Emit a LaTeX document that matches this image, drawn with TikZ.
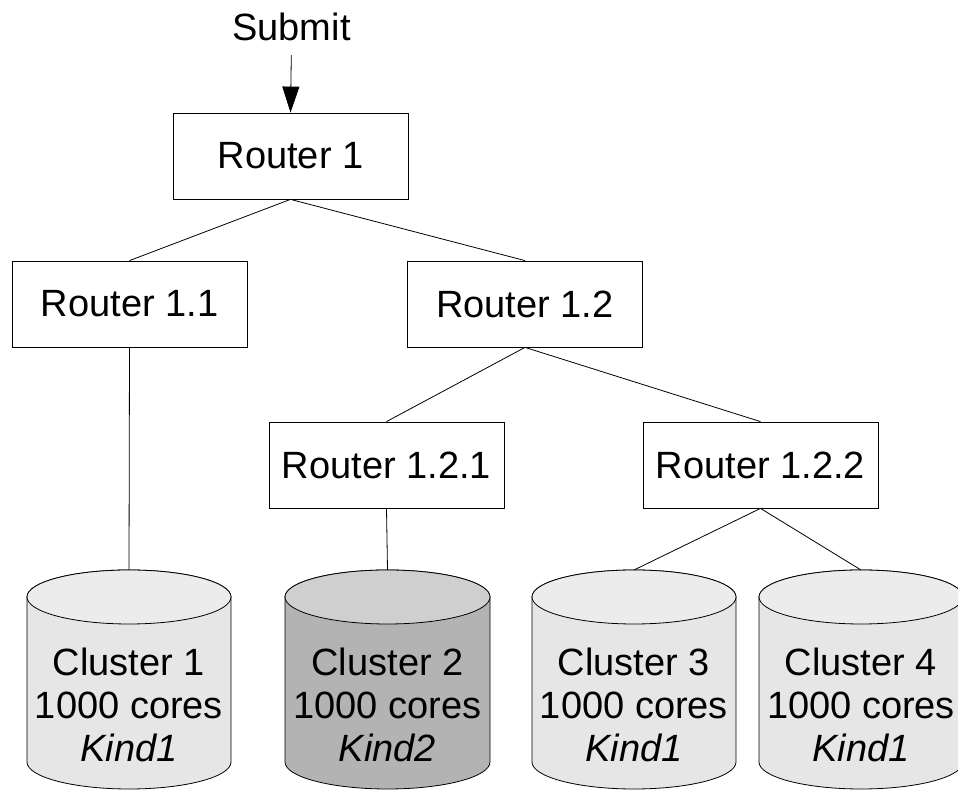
\documentclass[tikz,border=0pt]{standalone}
\usepackage{fontspec}
\setmainfont{Liberation Sans}
\usetikzlibrary{arrows.meta}

% Draws a storage cylinder: name, centre x, half width, body fill, cap fill, label
\newcommand{\clusterdrum}[6]{%
  \path[drumline, fill=#4]
    (#2-#3,194) -- (#2-#3,29)
    arc[start angle=180, end angle=360, x radius=#3, y radius=27]
    -- (#2+#3,194)
    arc[start angle=0, end angle=180, x radius=#3, y radius=27] -- cycle;
  \path[drumline, fill=#5] (#2,194) ellipse[x radius=#3, y radius=27];
  \coordinate (#1top) at (#2,221);
  \node[clusterlabel] (#1) at (#2,86) {#6};
}

\definecolor{drumlight}{HTML}{E6E6E6}
\definecolor{drumlighttop}{HTML}{ECECEC}
\definecolor{drumdark}{HTML}{B3B3B3}
\definecolor{drumdarktop}{HTML}{CFCFCF}

\tikzset{
  bigtext/.style={font=\fontsize{38}{43}\selectfont},
  router/.style={draw=black, line width=0.8pt, fill=white,
    minimum width=235pt, minimum height=86pt, inner sep=0pt, bigtext},
  link/.style={draw=black, line width=0.8pt},
  drumline/.style={draw=black, line width=0.8pt},
  clusterlabel/.style={bigtext, align=center, inner sep=0pt},
}

\begin{document}
\begin{tikzpicture}[x=1pt, y=1pt]
  \useasboundingbox (0,0) rectangle (958,791);
  \clip (0,0) rectangle (958,791);

  % entry point
  \node[bigtext, inner sep=0pt] (submit) at (291.5,764) {Submit};

  % routers
  \node[router] (r1)   at (290.5,635) {Router 1};
  \node[router] (r11)  at (129.5,487) {Router 1.1};
  \node[router] (r12)  at (525,487)   {Router 1.2};
  \node[router] (r121) at (386.5,326) {Router 1.2.1};
  \node[router] (r122) at (760.5,326) {Router 1.2.2};

  % clusters
  \clusterdrum{c1}{129}{102}{drumlight}{drumlighttop}{Cluster 1\\1000 cores\\\textit{Kind1}}
  \clusterdrum{c2}{387.5}{102.5}{drumdark}{drumdarktop}{Cluster 2\\1000 cores\\\textit{Kind2}}
  \clusterdrum{c3}{634}{102}{drumlight}{drumlighttop}{Cluster 3\\1000 cores\\\textit{Kind1}}
  \clusterdrum{c4}{861}{102}{drumlight}{drumlighttop}{Cluster 4\\1000 cores\\\textit{Kind1}}

  % connectors
  \draw[link, -{Triangle[length=26pt, width=17pt]}, shorten <=14pt]
    (submit.south) -- (r1.north);
  \draw[link] (r1.south) -- (r11.north);
  \draw[link] (r1.south) -- (r12.north);
  \draw[link] (r11.south) -- (c1top);
  \draw[link] (r12.south) -- (r121.north);
  \draw[link] (r12.south) -- (r122.north);
  \draw[link] (r121.south) -- (c2top);
  \draw[link] (r122.south) -- (c3top);
  \draw[link] (r122.south) -- (c4top);
\end{tikzpicture}
\end{document}
